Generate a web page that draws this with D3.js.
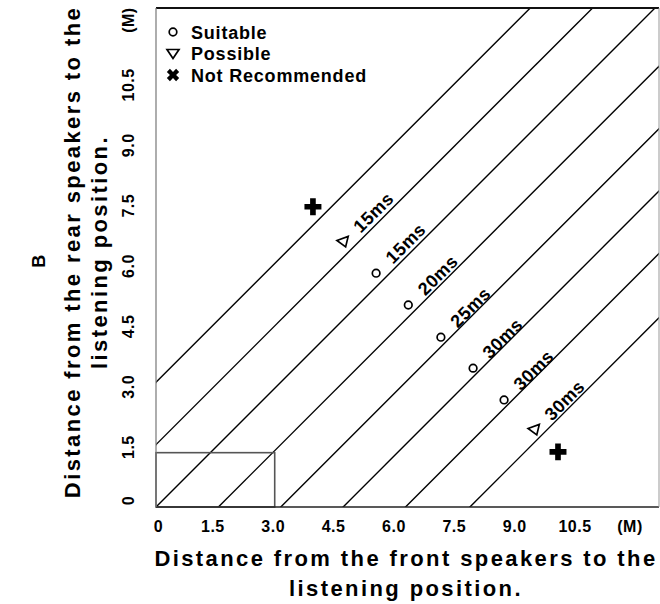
<!DOCTYPE html>
<html>
<head>
<meta charset="utf-8">
<script src="https://cdn.jsdelivr.net/npm/d3@7"></script>
<style>
body { margin: 0; background: #fff; }
svg { display: block; }
text { font-family: "Liberation Sans", Arial, sans-serif; font-weight: bold; fill: #000; }
</style>
</head>
<body>
<svg id="chart" width="660" height="604"></svg>
<script>
/* --------------------------------------------
 * Speaker distance / delay chart
 * ============================================
 */

// tick values and labels (metres)
var tickValues = [0, 1.5, 3.0, 4.5, 6.0, 7.5, 9.0, 10.5];
var tickLabels = ["0", "1.5", "3.0", "4.5", "6.0", "7.5", "9.0", "10.5"];
var unitLabel = "(M)";

// diagonal lines: rear = front + offset
var lineOffsets = [3.1, 1.55, 0, -1.55, -3.1, -4.65, -6.2, -7.8];

// listening positions
var pointType  = ["cross", "triangle", "circle", "circle", "circle", "circle", "circle", "triangle", "cross"];
var pointFront = [3.90, 4.67, 5.47, 6.27, 7.08, 7.88, 8.65, 9.42, 9.99];
var pointRear  = [7.46, 6.58, 5.81, 5.02, 4.22, 3.45, 2.66, 1.91, 1.37];
var pointLabel = ["", "15ms", "15ms", "20ms", "25ms", "30ms", "30ms", "30ms", ""];

// legend
var legendType  = ["circle", "triangle", "cross"];
var legendLabel = ["Suitable", "Possible", "Not Recommended"];

// small room outline in the corner
var roomFront = 2.95;
var roomRear = 1.35;

// axis titles
var xTitle = ["Distance from the front speakers to the", "listening position."];
var yTitle = ["B", "Distance from the rear speakers to the", "listening position."];

var PLOT = { left: 156, right: 659, top: 8, bottom: 507 };

var svg = d3.select("#chart");

var x = d3.scaleLinear().domain([0, 12.5]).range([PLOT.left, PLOT.right]);
var y = d3.scaleLinear().domain([0, 12.4]).range([PLOT.bottom, PLOT.top]);

svg.append("defs").append("clipPath").attr("id", "plotClip")
	.append("rect")
	.attr("x", PLOT.left)
	.attr("y", PLOT.top)
	.attr("width", PLOT.right - PLOT.left)
	.attr("height", PLOT.bottom - PLOT.top);

// diagonal lines
var lineGen = d3.line()
	.x(function(d) { return x(d[0]); })
	.y(function(d) { return y(d[1]); });

svg.append("g").attr("clip-path", "url(#plotClip)")
	.selectAll("path.diag")
	.data(lineOffsets)
	.enter().append("path")
	.attr("class", "diag")
	.attr("d", function(c) { return lineGen([[-2, -2 + c], [20, 20 + c]]); })
	.attr("stroke", "#000")
	.attr("stroke-width", 1.4)
	.attr("fill", "none");

// room outline
svg.append("rect")
	.attr("x", x(0))
	.attr("y", y(roomRear))
	.attr("width", x(roomFront) - x(0))
	.attr("height", y(0) - y(roomRear))
	.attr("fill", "none")
	.attr("stroke", "#555")
	.attr("stroke-width", 1.6);

// frame
svg.append("line").attr("x1", PLOT.left).attr("x2", PLOT.right).attr("y1", PLOT.top).attr("y2", PLOT.top)
	.attr("stroke", "#111").attr("stroke-width", 2);
svg.append("line").attr("x1", PLOT.left).attr("x2", PLOT.right).attr("y1", PLOT.bottom).attr("y2", PLOT.bottom)
	.attr("stroke", "#222").attr("stroke-width", 1.6);
svg.append("line").attr("x1", PLOT.left).attr("x2", PLOT.left).attr("y1", PLOT.top).attr("y2", PLOT.bottom)
	.attr("stroke", "#777").attr("stroke-width", 1.2);
svg.append("line").attr("x1", PLOT.right).attr("x2", PLOT.right).attr("y1", PLOT.top).attr("y2", PLOT.bottom)
	.attr("stroke", "#999").attr("stroke-width", 1);

// symbol drawing
function drawSymbol(g, type, rot)
{
	if (type == "circle") {
		g.append("circle").attr("r", 3.8)
			.attr("fill", "#fff").attr("stroke", "#000").attr("stroke-width", 1.7);
	}
	else if (type == "triangle") {
		g.append("path")
			.attr("d", "M-6,-4L6,-4L0,5Z")
			.attr("transform", "rotate(" + rot + ")")
			.attr("fill", "#fff").attr("stroke", "#000").attr("stroke-width", 1.7);
	}
	else {
		g.append("path")
			.attr("d", d3.symbol().type(d3.symbolCross).size(rot ? 95 : 160)())
			.attr("transform", "rotate(" + rot + ")")
			.attr("fill", "#000");
	}
}

// points with delay labels
svg.append("g").selectAll("g.pt")
	.data(pointType)
	.enter().append("g")
	.attr("class", "pt")
	.attr("transform", function(d, i) {
		return "translate(" + x(pointFront[i]) + "," + y(pointRear[i]) + ")";
	})
	.each(function(d, i) {
		var g = d3.select(this);
		drawSymbol(g, d, d == "triangle" ? -20 : 0);
		if (pointLabel[i] !== "") {
			g.append("text")
				.attr("transform", "rotate(-45)")
				.attr("x", 42)
				.attr("y", 6)
				.attr("text-anchor", "middle")
				.style("font-size", "18px")
				.style("letter-spacing", "0.5px")
				.text(pointLabel[i]);
		}
	});

// legend
var legend = svg.append("g").selectAll("g.leg")
	.data(legendLabel)
	.enter().append("g")
	.attr("class", "leg")
	.attr("transform", function(d, i) { return "translate(173," + (32 + i * 21.5) + ")"; })
	.each(function(d, i) {
		drawSymbol(d3.select(this), legendType[i], legendType[i] == "cross" ? 45 : 0);
	});

legend.append("text")
	.attr("x", 18)
	.attr("y", 6.5)
	.style("font-size", "18px")
	.style("letter-spacing", "0.8px")
	.text(function(d) { return d; });

// x axis
var xAxis = d3.axisBottom(x)
	.tickValues(tickValues)
	.tickSize(0)
	.tickFormat(function(d, i) { return tickLabels[i]; });

var gx = svg.append("g").attr("transform", "translate(0," + PLOT.bottom + ")").call(xAxis);
gx.select(".domain").remove();
gx.selectAll("text")
	.attr("y", 25)
	.attr("dy", 0)
	.attr("dx", function(d, i) { return i == 0 ? 2 : -4; })
	.style("font-family", "Liberation Sans, Arial, sans-serif")
	.style("font-weight", "bold")
	.style("font-size", "16px")
	.style("letter-spacing", "0.5px")
	.attr("fill", "#000");
svg.append("text")
	.attr("x", x(11.78))
	.attr("y", PLOT.bottom + 25)
	.attr("text-anchor", "middle")
	.style("font-size", "16px")
	.style("letter-spacing", "0.5px")
	.text(unitLabel);

// y axis (rotated labels)
var yAxis = d3.axisLeft(y)
	.tickValues(tickValues)
	.tickSize(0)
	.tickFormat(function(d, i) { return tickLabels[i]; });

var gy = svg.append("g").attr("transform", "translate(" + PLOT.left + ",0)").call(yAxis);
gy.select(".domain").remove();
gy.selectAll("text")
	.attr("x", 0)
	.attr("dy", 0)
	.attr("text-anchor", "middle")
	.attr("transform", function(d, i) { return "translate(-22," + (i == 0 ? -7 : 0) + ") rotate(-90)"; })
	.style("font-family", "Liberation Sans, Arial, sans-serif")
	.style("font-weight", "bold")
	.style("font-size", "16px")
	.style("letter-spacing", "0.5px")
	.attr("fill", "#000");
svg.append("text")
	.attr("transform", "translate(" + (PLOT.left - 22) + "," + y(12.1) + ") rotate(-90)")
	.attr("text-anchor", "middle")
	.style("font-size", "16px")
	.style("letter-spacing", "0.5px")
	.text(unitLabel);

// axis titles
var yTitlePos = [45, 80, 107];

svg.selectAll("text.xTitle")
	.data(xTitle)
	.enter().append("text")
	.attr("class", "xTitle")
	.attr("x", 406)
	.attr("y", function(d, i) { return 566 + i * 30; })
	.attr("text-anchor", "middle")
	.style("font-size", "22px")
	.style("letter-spacing", "2.4px")
	.text(function(d) { return d; });

svg.selectAll("text.yTitle")
	.data(yTitle)
	.enter().append("text")
	.attr("class", "yTitle")
	.attr("transform", function(d, i) { return "translate(" + yTitlePos[i] + "," + (i == 0 ? 260 : 252) + ") rotate(-90)"; })
	.attr("text-anchor", "middle")
	.style("font-size", function(d, i) { return i == 0 ? "18px" : "22px"; })
	.style("letter-spacing", "2.4px")
	.text(function(d) { return d; });
</script>
</body>
</html>
